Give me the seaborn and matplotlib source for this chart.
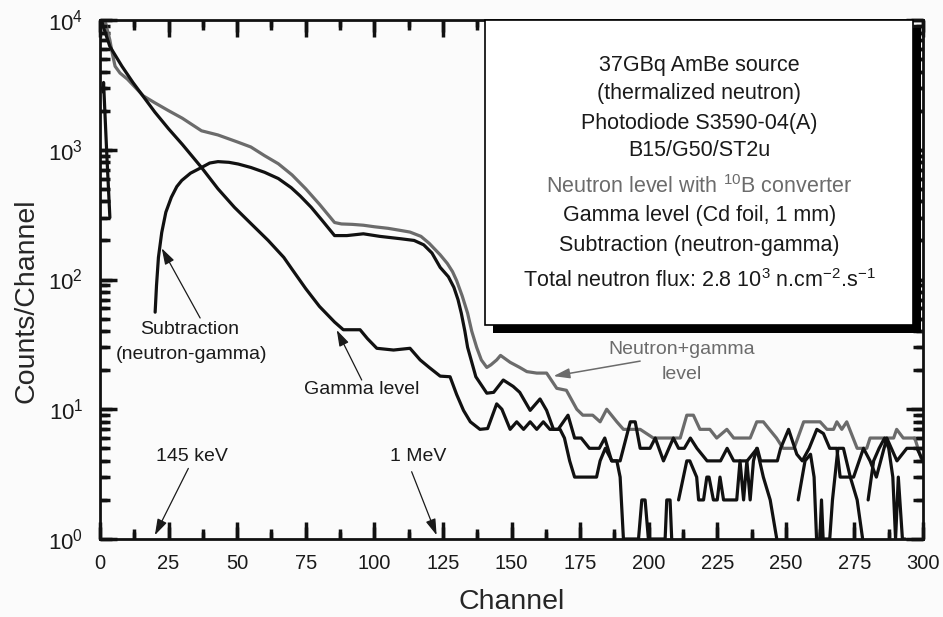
import numpy as np
import pandas as pd
import seaborn as sns
import matplotlib.pyplot as plt
from matplotlib.patches import Rectangle
from matplotlib.ticker import MultipleLocator, LogLocator, NullFormatter

# digitised spectra, counts per channel
# neutron + gamma level (10B converter), grey curve
ng_ch = [1.5, 1.8, 2.6, 3.6, 4.5, 5.5, 7.3, 10, 15.8, 20,
         25, 30, 37, 43, 50, 55, 60, 65, 70, 75,
         80, 85.5, 88, 92, 96, 100, 105, 110, 113, 117,
         120, 124, 126.6, 128.5, 130, 132, 134, 135.5, 137.3, 139,
         141, 142.5, 144.6, 146, 149.5, 153, 155.6, 159.2, 162.8, 166.5,
         170, 173.8, 176, 179.6, 182.3, 184.7, 188.4, 190.8, 193.5, 196.9,
         201.7, 209, 211.5, 213.9, 216.3, 218.7, 222.3, 224.8, 228.5, 231,
         237, 239.4, 241.8, 244, 246.6, 249, 253, 256.5, 262.5, 265,
         267.4, 268.6, 270.4, 272.2, 276, 279.5, 280.7, 289.3, 290.4, 292.8,
         297, 299.6]
ng_counts = [11000, 10000, 8500, 7000, 5500, 4400, 3900, 3500, 2600, 2300,
             2000, 1750, 1400, 1300, 1150, 1050, 900, 780, 640, 500,
             380, 275, 268, 266, 262, 255, 248, 238, 232, 215,
             190, 155, 133, 115, 98, 75, 55, 40, 30, 24,
             21, 22, 24, 26, 23, 21, 19.5, 19, 19, 14.5,
             14, 10, 9, 9, 8, 10, 8, 7, 7, 7,
             6, 6, 6, 9, 9, 7, 7, 6, 7, 6,
             6, 8, 8, 7, 6, 5, 5, 8, 8, 7,
             7, 8, 7, 8, 5, 5, 6, 6, 7, 6,
             6, 4]

# gamma level (Cd foil 1 mm)
g_ch = [0.3, 1.5, 3.6, 8, 12, 15.8, 20, 25, 30, 37,
        43, 49, 55, 61.3, 67, 70, 75, 80, 85.5, 88.7,
        94.8, 97.5, 100.9, 107, 113, 116.7, 120, 124, 127.6, 130,
        132.5, 135, 138.5, 141.3, 144.6, 146.5, 149.5, 151.9, 154.4, 156.8,
        159.2, 161.6, 164, 167, 170.6, 173, 175.4, 178.4, 182, 184,
        186.5, 189.6, 193.3, 195.1, 196.9, 200.5, 202.4, 205.4, 209, 210.9,
        213, 215.2, 217.6, 221.3, 226.2, 228.6, 231, 235.9, 239.6, 240.8,
        246.9, 248.1, 251, 254, 256, 258.5, 261.3, 263.7, 266, 268.6,
        269.8, 274.7, 278.3, 280.7, 283, 286.8, 290.5, 294.1, 297.8, 300]
g_counts = [10500, 8500, 6250, 4400, 3300, 2570, 1950, 1450, 1100, 730,
            500, 360, 270, 200, 148, 120, 85, 62, 47, 41,
            41, 35, 29.5, 28.6, 29.5, 24, 21, 18, 17.8, 13,
            9.8, 8, 7, 7.1, 11, 10, 7, 8, 7, 8,
            7, 8, 7, 7, 9, 6, 6, 5, 5, 6,
            4, 4, 8, 8, 5, 5, 6, 4, 6, 5,
            5, 6, 5, 4, 4, 5, 4, 4, 5, 4,
            4, 5, 7, 4.5, 4, 5, 7, 6.5, 5, 5,
            3, 3, 5, 4, 3, 6, 4, 5, 5, 4]

# subtraction (neutron - gamma); None = difference <= 0, curve is broken there
sub_ch = [1.1, 1.3, 2.4, 3.6, None,
          20.1, 20.6, 21.3, 22.5, 24, 26, 28, 29.8, 33, 37,
          40, 43, 47, 50.4, 55, 60, 65, 69.7, 73, 77,
          81, 85.5, 90, 96, 102, 109.7, 114.5, 118, 121, 124,
          127, 129, 130.5, 131.7, 133, 134, 137, 141, 143.5, 147,
          150.6, 153, 156.8, 160.4, 162.8, 165.3, 167.7, 169.3, 171.2, 173,
          176, 181, 182.3, 184.2, 186.6, 188.4, 189.6, 190.8, 196.3, 197.5,
          198.7, 199.9, 206, 206.6, 207.8, 208.4, None,
          210.9, 213.9, 215, 217.5, 218.2, 220, 221.2, 222, 223.6, 225,
          226, 227.3, 232.1, 233.3, 234.6, 235.8, 237, 238.2, 239.4, 241.8,
          244.3, 246.7, None,
          254.5, 257, 259, 260.3, 261.2, 262.4, 263, 263.6, 266, 267,
          269, 271, 273.5, 276, 278, None,
          280, 282, 284, 286, 287.5, 289, 290, 291, 292.5, 293.5]
sub_counts = [2800, 3300, 1000, 300, None,
              56, 90, 148, 230, 330, 430, 520, 580, 660, 730,
              790, 810, 800, 776, 730, 670, 600, 510, 440, 360,
              285, 218, 218, 225, 215, 206, 200, 185, 160, 124,
              105, 87, 70, 55, 40, 30, 17.8, 13.3, 13.5, 16.8,
              15, 13.5, 9.8, 12, 9.8, 7, 7, 6, 4, 3,
              3, 3, 4, 5, 4, 4, 3, 1, 1, 2,
              2, 1, 1, 2, 2, 1, None,
              2, 4, 4, 3, 2, 2, 3, 3, 2, 2,
              3, 2, 2, 4, 2, 4, 2, 4, 5, 3,
              2, 1, None,
              2, 4, 4.5, 3, 1, 1, 2, 1, 1, 2,
              5, 5, 3, 2, 1, None,
              2, 4, 5, 6, 5, 3, 1, 3, 1, 1]

box_lines = ["37GBq AmBe source",
             "(thermalized neutron)",
             "Photodiode S3590-04(A)",
             "B15/G50/ST2u",
             r"Neutron level with $^{10}$B converter",
             "Gamma level (Cd foil, 1 mm)",
             "Subtraction (neutron-gamma)",
             r"Total neutron flux: 2.8 10$^{3}$ n.cm$^{-2}$.s$^{-1}$"]


def spectrum(ch, counts):
    df = pd.DataFrame({"Channel": ch, "Counts": counts}, dtype=float)
    df["seg"] = df["Counts"].isna().cumsum()
    return df.dropna()


sns.set_style("ticks")
plt.rcParams["font.family"] = ["Liberation Sans", "DejaVu Sans"]
plt.rcParams["mathtext.fontset"] = "custom"
plt.rcParams["mathtext.rm"] = "Liberation Sans"
plt.rcParams["mathtext.it"] = "Liberation Sans:italic"
plt.rcParams["mathtext.bf"] = "Liberation Sans:bold"
plt.rcParams["mathtext.sf"] = "Liberation Sans"
plt.rcParams["mathtext.default"] = "regular"

GREY = "#6b6b6b"
BG = "#fbfbfb"
INK = "#111111"

fig = plt.figure(figsize=(9.43, 6.17), dpi=100, facecolor=BG)
ax = fig.add_axes([100 / 943, 78 / 617, 823 / 943, 519 / 617])
ax.set_facecolor(BG)
ax.set_yscale("log")

sns.lineplot(data=spectrum(ng_ch, ng_counts), x="Channel", y="Counts", units="seg",
             estimator=None, sort=False, color=GREY, lw=2.3, ax=ax, legend=False)
sns.lineplot(data=spectrum(g_ch, g_counts), x="Channel", y="Counts", units="seg",
             estimator=None, sort=False, color=INK, lw=2.3, ax=ax, legend=False)
sns.lineplot(data=spectrum(sub_ch, sub_counts), x="Channel", y="Counts", units="seg",
             estimator=None, sort=False, color=INK, lw=2.3, ax=ax, legend=False)

ax.set_xlim(0, 300)
ax.set_ylim(1, 1e4)
ax.xaxis.set_major_locator(MultipleLocator(25))
ax.xaxis.set_minor_locator(MultipleLocator(12.5))
ax.yaxis.set_major_locator(LogLocator(base=10))
ax.yaxis.set_minor_locator(LogLocator(base=10, subs=np.arange(2, 10), numticks=20))
ax.yaxis.set_minor_formatter(NullFormatter())
for s in ax.spines.values():
    s.set_linewidth(2)
    s.set_color(INK)
    s.set_zorder(4)

ax.set_xlabel("Channel", fontsize=20.5)
ax.set_ylabel("Counts/Channel", fontsize=20.5)
ax.xaxis.set_label_coords(0.5, -0.097)
ax.yaxis.set_label_coords(-0.073, 0.46)

ax.tick_params(which="both", direction="in", top=True, right=True,
               color=INK, width=2.5, labelcolor="#1a1a1a")
ax.tick_params(axis="x", which="major", length=12, labelsize=14.5, pad=11)
ax.tick_params(axis="y", which="major", length=12, labelsize=16, pad=12)
ax.tick_params(which="minor", length=7)

# inward tick marks, also drawn as short segments at the locator positions
xmaj = [t for t in ax.xaxis.get_majorticklocs() if 0 <= t <= 300]
xmin = [t for t in ax.xaxis.get_minorticklocs() if 0 <= t <= 300]
ymaj = [t for t in ax.yaxis.get_majorticklocs() if 1 <= t <= 1e4]
ymin = [t for t in ax.yaxis.get_minorticklocs() if 1 <= t <= 1e4]
xt = ax.get_xaxis_transform()
yt = ax.get_yaxis_transform()
tk = dict(color=INK, lw=2.5, zorder=4, clip_on=False)
for lo, hi, ticks in [(0, 0.024, xmaj), (0, 0.014, xmin),
                      (1 - 0.024, 1, xmaj), (1 - 0.014, 1, xmin)]:
    ax.vlines(ticks, lo, hi, transform=xt, **tk)
for lo, hi, ticks in [(0, 0.015, ymaj), (0, 0.0085, ymin),
                      (1 - 0.015, 1, ymaj), (1 - 0.0085, 1, ymin)]:
    ax.hlines(ticks, lo, hi, transform=yt, **tk)

# information box with shadow
ax.add_patch(Rectangle((0.4775, 0.397), 0.52, 0.5876, transform=ax.transAxes,
                       facecolor="black", edgecolor="none", zorder=5, clip_on=False))
ax.add_patch(Rectangle((0.468, 0.412), 0.52, 0.588, transform=ax.transAxes,
                       facecolor="white", edgecolor="black", lw=1.2, zorder=6,
                       clip_on=False))
line_y = [65, 93, 123, 151, 187, 216, 245, 281]
for i, (txt, py) in enumerate(zip(box_lines, line_y)):
    ax.text(0.728, (539 - py) / 519, txt, transform=ax.transAxes, ha="center",
            va="center", fontsize=15.5, color=GREY if i == 4 else "#1a1a1a", zorder=7)

# annotations
arrow_k = dict(arrowstyle="-|>,head_length=0.7,head_width=0.22", color="#1a1a1a",
               lw=0.9, mutation_scale=14, shrinkA=0, shrinkB=0)
arrow_g = dict(arrowstyle="-|>,head_length=0.7,head_width=0.22", color=GREY,
               lw=1.1, mutation_scale=14, shrinkA=0, shrinkB=0)

ax.annotate("", xy=(22.5, 174), xytext=(36.5, 50.5), arrowprops=arrow_k)
ax.text(32.8, 41.5, "Subtraction", ha="center", va="center", fontsize=14, color="#1a1a1a")
ax.text(33.2, 26.2, "(neutron-gamma)", ha="center", va="center", fontsize=14, color="#1a1a1a")

ax.annotate("", xy=(86.3, 40.8), xytext=(95.4, 16.8), arrowprops=arrow_k)
ax.text(95.5, 14.1, "Gamma level", ha="center", va="center", fontsize=14, color="#1a1a1a")

ax.annotate("", xy=(20, 1.07), xytext=(32.2, 3.5), arrowprops=arrow_k)
ax.text(33.5, 4.3, "145 keV", ha="center", va="center", fontsize=14, color="#1a1a1a")

ax.annotate("", xy=(122.7, 1.07), xytext=(113.6, 3.3), arrowprops=arrow_k)
ax.text(116, 4.3, "1 MeV", ha="center", va="center", fontsize=14, color="#1a1a1a")

ax.annotate("", xy=(165.3, 18), xytext=(196.9, 23.5), arrowprops=arrow_g)
ax.text(212, 29, "Neutron+gamma", ha="center", va="center", fontsize=14, color=GREY)
ax.text(212, 18.4, "level", ha="center", va="center", fontsize=14, color=GREY)

ax.set_xlim(0, 300)
ax.set_ylim(1, 1e4)
fig.savefig("out.png", dpi=100, facecolor=BG)
